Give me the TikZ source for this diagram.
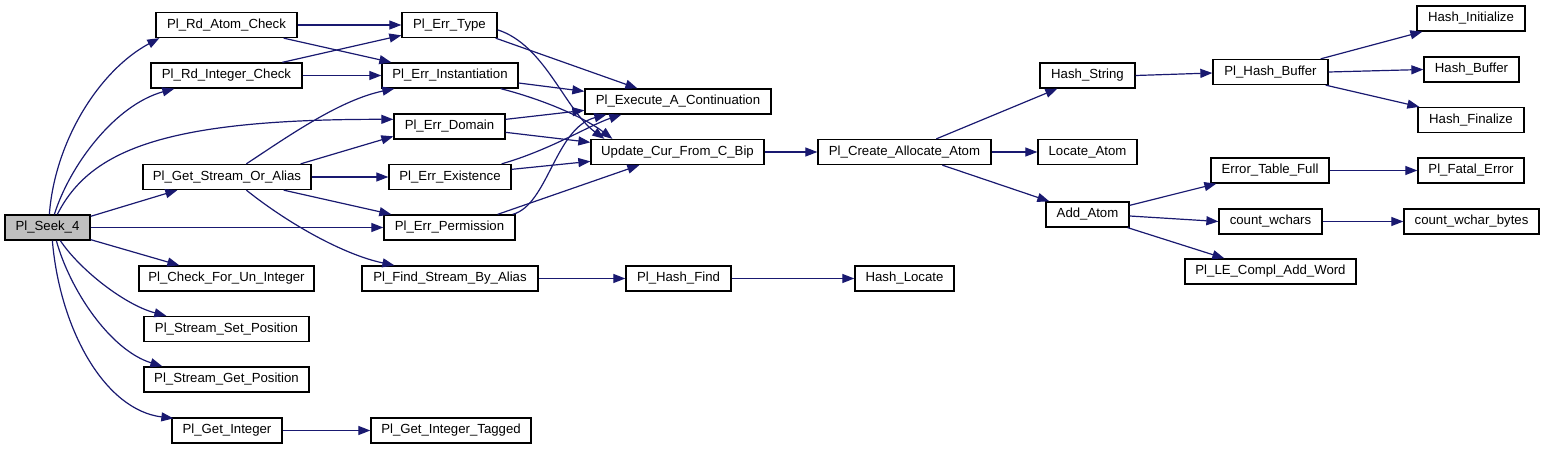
\documentclass[tikz,border=0pt]{standalone}
\usepackage{fontspec}
\setmainfont{Liberation Sans}
\usetikzlibrary{arrows.meta,calc}
\definecolor{edgecol}{HTML}{191970}
\definecolor{seekfill}{HTML}{BFBFBF}
\tikzset{
  box/.style={draw=black, line width=1.3pt, fill=white, minimum height=25pt, inner sep=0pt, font=\fontsize{13.2}{15}\selectfont},
  edge/.style={draw=edgecol, line width=1.2pt, -{Triangle[length=12pt,width=9pt]}}
}
\begin{document}
\begin{tikzpicture}[x=1pt,y=-1pt]
\useasboundingbox (0,0) rectangle (1544,449);
% nodes
\node[box, fill=seekfill, minimum width=85pt] (seek) at (47.5,227.5) {Pl\_Seek\_4};
\node[box, minimum width=141pt] (rdatom) at (226.5,25) {Pl\_Rd\_Atom\_Check};
\node[box, minimum width=151pt] (rdint) at (226.5,75.5) {Pl\_Rd\_Integer\_Check};
\node[box, minimum width=168pt] (getstream) at (227,177) {Pl\_Get\_Stream\_Or\_Alias};
\node[box, minimum width=175pt] (checkun) at (226.5,278.5) {Pl\_Check\_For\_Un\_Integer};
\node[box, minimum width=165pt] (setpos) at (226.5,329) {Pl\_Stream\_Set\_Position};
\node[box, minimum width=165pt] (getpos) at (226.5,379.5) {Pl\_Stream\_Get\_Position};
\node[box, minimum width=110pt] (getint) at (227,430.5) {Pl\_Get\_Integer};
\node[box, minimum width=95pt] (errtype) at (449.5,25) {Pl\_Err\_Type};
\node[box, minimum width=136pt] (errinst) at (450,75.5) {Pl\_Err\_Instantiation};
\node[box, minimum width=111pt] (errdom) at (449.5,126.5) {Pl\_Err\_Domain};
\node[box, minimum width=122pt] (errexist) at (450,177) {Pl\_Err\_Existence};
\node[box, minimum width=131pt] (errperm) at (449.5,227.5) {Pl\_Err\_Permission};
\node[box, minimum width=176pt] (findstream) at (450,278.5) {Pl\_Find\_Stream\_By\_Alias};
\node[box, minimum width=160pt] (getinttag) at (451,430.5) {Pl\_Get\_Integer\_Tagged};
\node[box, minimum width=186pt] (execcont) at (678,101.5) {Pl\_Execute\_A\_Continuation};
\node[box, minimum width=173pt] (update) at (677.5,152) {Update\_Cur\_From\_C\_Bip};
\node[box, minimum width=105pt] (hashfind) at (678.5,278.5) {Pl\_Hash\_Find};
\node[box, minimum width=99pt] (hashlocate) at (904.5,278.5) {Hash\_Locate};
\node[box, minimum width=173pt] (createatom) at (904.5,152) {Pl\_Create\_Allocate\_Atom};
\node[box, minimum width=95pt] (hashstring) at (1087.5,75.5) {Hash\_String};
\node[box, minimum width=99pt] (locateatom) at (1087.5,152) {Locate\_Atom};
\node[box, minimum width=83pt] (addatom) at (1087.5,214.5) {Add\_Atom};
\node[box, minimum width=115pt] (hashbuffer) at (1270.5,72) {Pl\_Hash\_Buffer};
\node[box, minimum width=108pt] (hashinit) at (1471,18.5) {Hash\_Initialize};
\node[box, minimum width=95pt] (hashbuf) at (1471.5,69.5) {Hash\_Buffer};
\node[box, minimum width=106pt] (hashfinal) at (1471,120) {Hash\_Finalize};
\node[box, minimum width=118pt] (errtable) at (1270,170.5) {Error\_Table\_Full};
\node[box, minimum width=106pt] (fatal) at (1471,170.5) {Pl\_Fatal\_Error};
\node[box, minimum width=103pt] (countw) at (1270.5,221.5) {count\_wchars};
\node[box, minimum width=135pt] (countwb) at (1471.5,221.5) {count\_wchar\_bytes};
\node[box, minimum width=171pt] (lecompl) at (1270.5,271.5) {Pl\_LE\_Compl\_Add\_Word};
% edges from Pl_Seek_4
\draw[edge] ($(seek.north west)+(45,0)$) .. controls (55,140) and (100,70) .. ($(rdatom.south west)+(4,0)$);
\draw[edge] ($(seek.north west)+(50,0)$) .. controls (70,165) and (115,105) .. ($(rdint.south west)+(24,0)$);
\draw[edge] ($(seek.north west)+(53,0)$) .. controls (90,150) and (165,119) .. ($(errdom.north west)+(0,6)$);
\draw[edge] ($(seek.north east)+(0,2)$) -- ($(getstream.south west)+(35,0)$);
\draw[edge] (seek.east) -- (errperm.west);
\draw[edge] ($(seek.south east)+(0,-1)$) -- ($(checkun.north west)+(41,0)$);
\draw[edge] ($(seek.south west)+(56,0)$) .. controls (80,270) and (125,305) .. ($(setpos.north west)+(23,0)$);
\draw[edge] ($(seek.south west)+(52,0)$) .. controls (70,290) and (110,350) .. ($(getpos.north west)+(19,0)$);
\draw[edge] ($(seek.south west)+(48,0)$) .. controls (60,330) and (105,410) .. ($(getint.north west)+(2,1)$);
% column 1 to error column
\draw[edge] (rdatom.east) -- (errtype.west);
\draw[edge] ($(rdatom.south east)+(-14,0)$) -- ($(errinst.north west)+(10,0)$);
\draw[edge] ($(rdint.north west)+(132,0)$) -- ($(errtype.north west)+(0,23.5)$);
\draw[edge] (rdint.east) -- (errinst.west);
\draw[edge] ($(getstream.north west)+(104,0)$) .. controls (290,135) and (340,100) .. ($(errinst.south west)+(13,0)$);
\draw[edge] ($(getstream.north east)+(-11,0)$) -- ($(errdom.north west)+(0,23)$);
\draw[edge] (getstream.east) -- (errexist.west);
\draw[edge] ($(getstream.south east)+(-28,0)$) -- ($(errperm.north west)+(8,0)$);
\draw[edge] ($(getstream.south west)+(104,0)$) .. controls (290,225) and (345,255) .. ($(findstream.north west)+(33,0)$);
% error column to execute / update
\draw[edge] ($(errtype.south east)+(-2,0)$) -- ($(execcont.north west)+(53,0)$);
\draw[edge] ($(errtype.north east)+(0,18)$) .. controls (545,45) and (565,110) .. ($(update.north west)+(14,0)$);
\draw[edge] ($(errinst.east)+(0,7.5)$) -- ($(execcont.north west)+(0,3)$);
\draw[edge] ($(errinst.south east)+(-18,0)$) .. controls (545,100) and (585,118) .. ($(update.north west)+(22,0)$);
\draw[edge] ($(errdom.north east)+(0,6)$) -- ($(execcont.north west)+(0,22)$);
\draw[edge] ($(errdom.north east)+(0,19)$) -- ($(update.north west)+(0,3.5)$);
\draw[edge] ($(errexist.north east)+(-10,0)$) .. controls (550,150) and (590,125) .. ($(execcont.south west)+(37,0)$);
\draw[edge] ($(errexist.north east)+(0,5.5)$) -- ($(update.north west)+(0,22.5)$);
\draw[edge] ($(errperm.north east)+(-3,0)$) .. controls (548,205) and (555,128) .. ($(execcont.south west)+(22,0)$);
\draw[edge] ($(errperm.north east)+(-18,0)$) -- ($(update.south west)+(49,0)$);
% remaining
\draw[edge] (update.east) -- (createatom.west);
\draw[edge] (findstream.east) -- (hashfind.west);
\draw[edge] (hashfind.east) -- (hashlocate.west);
\draw[edge] (getint.east) -- (getinttag.west);
\draw[edge] ($(createatom.north west)+(119,0)$) -- ($(hashstring.south west)+(18,0)$);
\draw[edge] (createatom.east) -- (locateatom.west);
\draw[edge] ($(createatom.south west)+(125,0)$) -- ($(addatom.north west)+(4,0)$);
\draw[edge] (hashstring.east) -- ($(hashbuffer.west)+(0,1)$);
\draw[edge] ($(hashbuffer.north east)+(-8,0)$) -- ($(hashinit.south west)+(6,0)$);
\draw[edge] (hashbuffer.east) -- (hashbuf.west);
\draw[edge] ($(hashbuffer.south east)+(-3,0)$) -- ($(hashfinal.north west)+(2,0)$);
\draw[edge] ($(addatom.north east)+(0,4)$) -- ($(errtable.south west)+(6,0)$);
\draw[edge] ($(addatom.east)+(0,1.5)$) -- (countw.west);
\draw[edge] ($(addatom.south east)+(-2,0)$) -- ($(lecompl.north west)+(40,0)$);
\draw[edge] (errtable.east) -- (fatal.west);
\draw[edge] (countw.east) -- (countwb.west);
\end{tikzpicture}
\end{document}
